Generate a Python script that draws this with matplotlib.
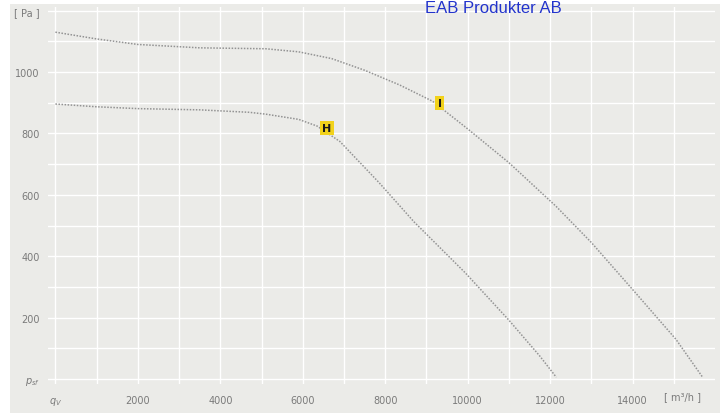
import matplotlib
matplotlib.use("Agg")
import matplotlib.pyplot as plt
from matplotlib.patches import Rectangle

# ---- data ----
curve_I_x = [0, 1000, 2000, 3500, 5100, 5900, 6700, 7500, 8350, 9150, 10000, 11000, 12150, 13000, 14000, 15050, 15700]
curve_I_y = [1130, 1108, 1090, 1079, 1076, 1066, 1044, 1006, 958, 905, 815, 705, 562, 445, 292, 130, 6]

curve_H_x = [0, 1000, 2000, 3500, 4700, 5100, 5900, 6350, 6900, 7850, 8700, 9000, 9950, 11000, 11750, 12150]
curve_H_y = [896, 887, 881, 877, 869, 863, 846, 824, 774, 640, 512, 472, 345, 192, 75, 6]

label_names = ["H", "I"]
label_x = [6580, 9320]
label_y = [818, 900]

x_ticks = list(range(0, 16000, 1000))
x_tick_labels = ["$q_V$", "", "2000", "", "4000", "", "6000", "", "8000", "", "10000", "", "12000", "", "14000", ""]
y_ticks = list(range(0, 1300, 100))
y_tick_labels = ["$p_{sf}$", "", "200", "", "400", "", "600", "", "800", "", "1000", "", "[ Pa ]"]
x_unit = "[ m³/h ]"
watermark = "EAB Produkter AB"

W, H = 727, 414
fig = plt.figure(figsize=(W / 100, H / 100), dpi=100, facecolor="white")
bg = "#ebebe8"
fig.patches.append(Rectangle((10 / W, 0), (720 - 10) / W, (H - 5) / H,
                             transform=fig.transFigure, facecolor=bg,
                             edgecolor="none", zorder=-5))

ax = fig.add_axes([48 / W, (H - 385) / H, (715 - 48) / W, (385 - 8) / H])
ax.set_facecolor(bg)
ax.set_xlim(-180, 16000)
ax.set_ylim(-16, 1212)
for s in ax.spines.values():
    s.set_visible(False)

ax.set_xticks(x_ticks)
ax.set_xticklabels(x_tick_labels)
ax.set_yticks(y_ticks)
ax.set_yticklabels(y_tick_labels)
ax.tick_params(length=0, labelsize=7, labelcolor="#7a7a7a")
ax.tick_params(axis="y", pad=6)
ax.tick_params(axis="x", pad=8)
ax.grid(True, color="white", linewidth=1.0)
ax.set_axisbelow(True)

dot = (0, (1.0, 1.0))
ax.plot(curve_I_x, curve_I_y, color="#939393", linewidth=1.1, linestyle=dot)
ax.plot(curve_H_x, curve_H_y, color="#939393", linewidth=1.1, linestyle=dot)

for name, lx, ly in zip(label_names, label_x, label_y):
    ax.text(lx, ly, name, ha="center", va="center", fontsize=8, fontweight="bold",
            color="#1a1a1a",
            bbox=dict(boxstyle="square,pad=0.2", facecolor="#f2d21b", edgecolor="none"))

fig.text(683 / W, (H - 397) / H, x_unit, ha="center", va="center",
         fontsize=7, color="#7a7a7a")

fig.text(425 / W, (H - 1) / H, watermark, ha="left", va="top",
         fontsize=12, color="#2233cc", family="Liberation Sans")

fig.savefig("out.png", dpi=100, facecolor="white")
